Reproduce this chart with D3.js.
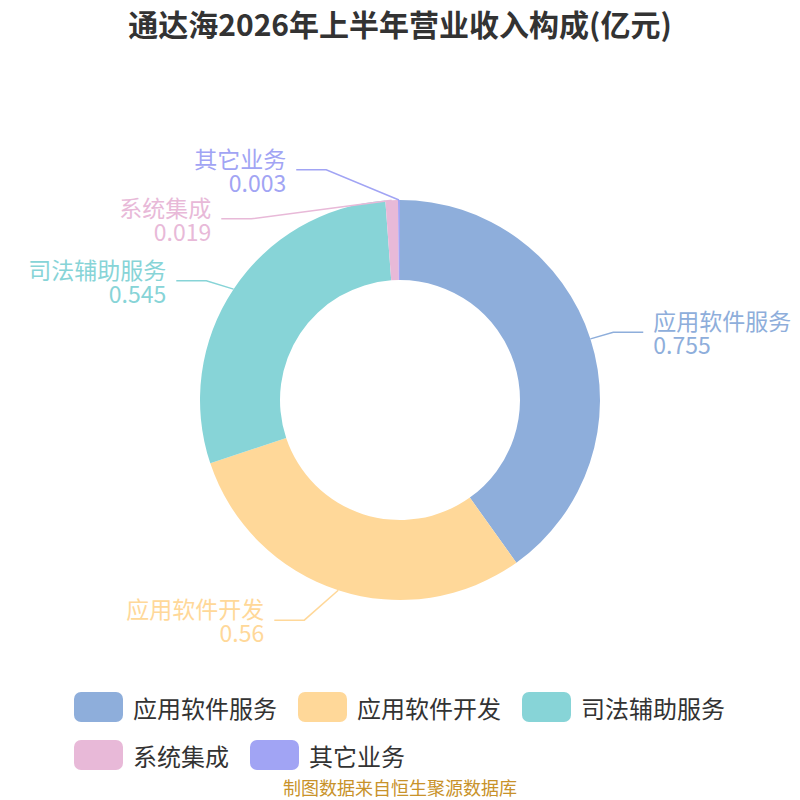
<!DOCTYPE html>
<html><head><meta charset="utf-8">
<script src="https://cdn.jsdelivr.net/npm/d3@7/dist/d3.min.js"></script>
<style>body{margin:0;background:#fff;}svg{display:block;font-family:"Noto Sans CJK SC","Noto Sans",sans-serif;}</style>
</head><body>
<svg id="c" width="800" height="800"></svg>
<script>
const titleText = "通达海2026年上半年营业收入构成(亿元)";
const sourceText = "制图数据来自恒生聚源数据库";
const categories = ["应用软件服务", "应用软件开发", "司法辅助服务", "系统集成", "其它业务"];
const values = [0.755, 0.56, 0.545, 0.019, 0.003];
const valueLabels = ["0.755", "0.56", "0.545", "0.019", "0.003"];
const colors = ["#8eaedb", "#ffd899", "#87d4d7", "#e8b9d8", "#a1a4f4"];

const svg = d3.select("#c");
const cx = 400, cy = 400, R = 200, r0 = 120;
const len1 = 22, len2 = 30, rB = 244, gap = 49;

svg.append("text").attr("x", 400).attr("y", 23).attr("text-anchor", "middle")
  .attr("dominant-baseline", "central").attr("font-size", 30).attr("font-weight", "bold")
  .attr("fill", "#333").text(titleText);

const data = categories.map((c, i) => ({name: c, value: values[i], label: valueLabels[i], color: colors[i], i}));
const pie = d3.pie().value(d => d.value).sort(null);
const arcs = pie(data);
const arc = d3.arc().innerRadius(r0).outerRadius(R);

const g = svg.append("g").attr("transform", `translate(${cx},${cy})`);
g.selectAll("path.slice").data(arcs).enter().append("path")
  .attr("class", "slice").attr("d", arc).attr("fill", d => d.data.color);

// label layout: radial start, collision push, elliptical x
const rA = R + len1;
const items = arcs.map(a => {
  const mid = (a.startAngle + a.endAngle) / 2;
  const s = Math.sin(mid), c = Math.cos(mid);
  return {a, mid, dir: s >= 0 ? 1 : -1, sx: cx + R * s, sy: cy - R * c, y: cy - rA * c, y0: cy - rA * c};
});
[1, -1].forEach(dir => {
  const side = items.filter(d => d.dir === dir).sort((p, q) => p.y - q.y);
  let pushed = false;
  for (let k = 1; k < side.length; k++) {
    if (side[k].y - side[k - 1].y < gap) { side[k].y = side[k - 1].y + gap; pushed = true; }
  }
  if (pushed) {
    const shift = d3.mean(side.filter(d => d.y < cy), d => d.y - d.y0) || 0;
    side.forEach(d => {
      if (d.y < cy) d.y -= shift / 2;
      if (d.y > cy) d.y += 9; else if (d.y > cy - 150) d.y += 12;
    });
  }
});
items.forEach(d => {
  const dy = d.y - cy;
  const t = Math.max(0, 1 - (dy * dy) / (rB * rB));
  d.bx = cx + d.dir * rA * Math.sqrt(t);
  d.ex = d.bx + d.dir * len2;
});

const lab = svg.append("g");
items.forEach(d => {
  lab.append("polyline")
    .attr("points", [[d.sx, d.sy], [d.bx, d.y], [d.ex, d.y]].map(p => p.join(",")).join(" "))
    .attr("fill", "none").attr("stroke", d.a.data.color).attr("stroke-width", 1.5);
  const tx = d.ex + d.dir * 10;
  const anchor = d.dir > 0 ? "start" : "end";
  lab.append("text").attr("x", tx).attr("y", d.y - 12).attr("text-anchor", anchor)
    .attr("dominant-baseline", "central").attr("font-size", 23).attr("fill", d.a.data.color)
    .text(d.a.data.name);
  lab.append("text").attr("x", tx).attr("y", d.y + 12).attr("text-anchor", anchor)
    .attr("dominant-baseline", "central").attr("font-size", 23).attr("fill", d.a.data.color)
    .text(d.a.data.label);
});

// legend
const legend = svg.append("g");
const rows = [[0, 1, 2], [3, 4]];
rows.forEach((row, ri) => {
  let x = 74;
  const y = 707 + ri * 48;
  row.forEach(i => {
    legend.append("rect").attr("x", x).attr("y", y - 15).attr("width", 49).attr("height", 30)
      .attr("rx", 7).attr("fill", colors[i]);
    const t = legend.append("text").attr("x", x + 59).attr("y", y).attr("dominant-baseline", "central")
      .attr("font-size", 24).attr("fill", "#333").text(categories[i]);
    const w = t.node().getComputedTextLength();
    x = x + 59 + w + 21;
  });
});

svg.append("text").attr("x", 400).attr("y", 787).attr("text-anchor", "middle")
  .attr("dominant-baseline", "central").attr("font-size", 18).attr("fill", "#c8922a").text(sourceText);
</script>
</body></html>
